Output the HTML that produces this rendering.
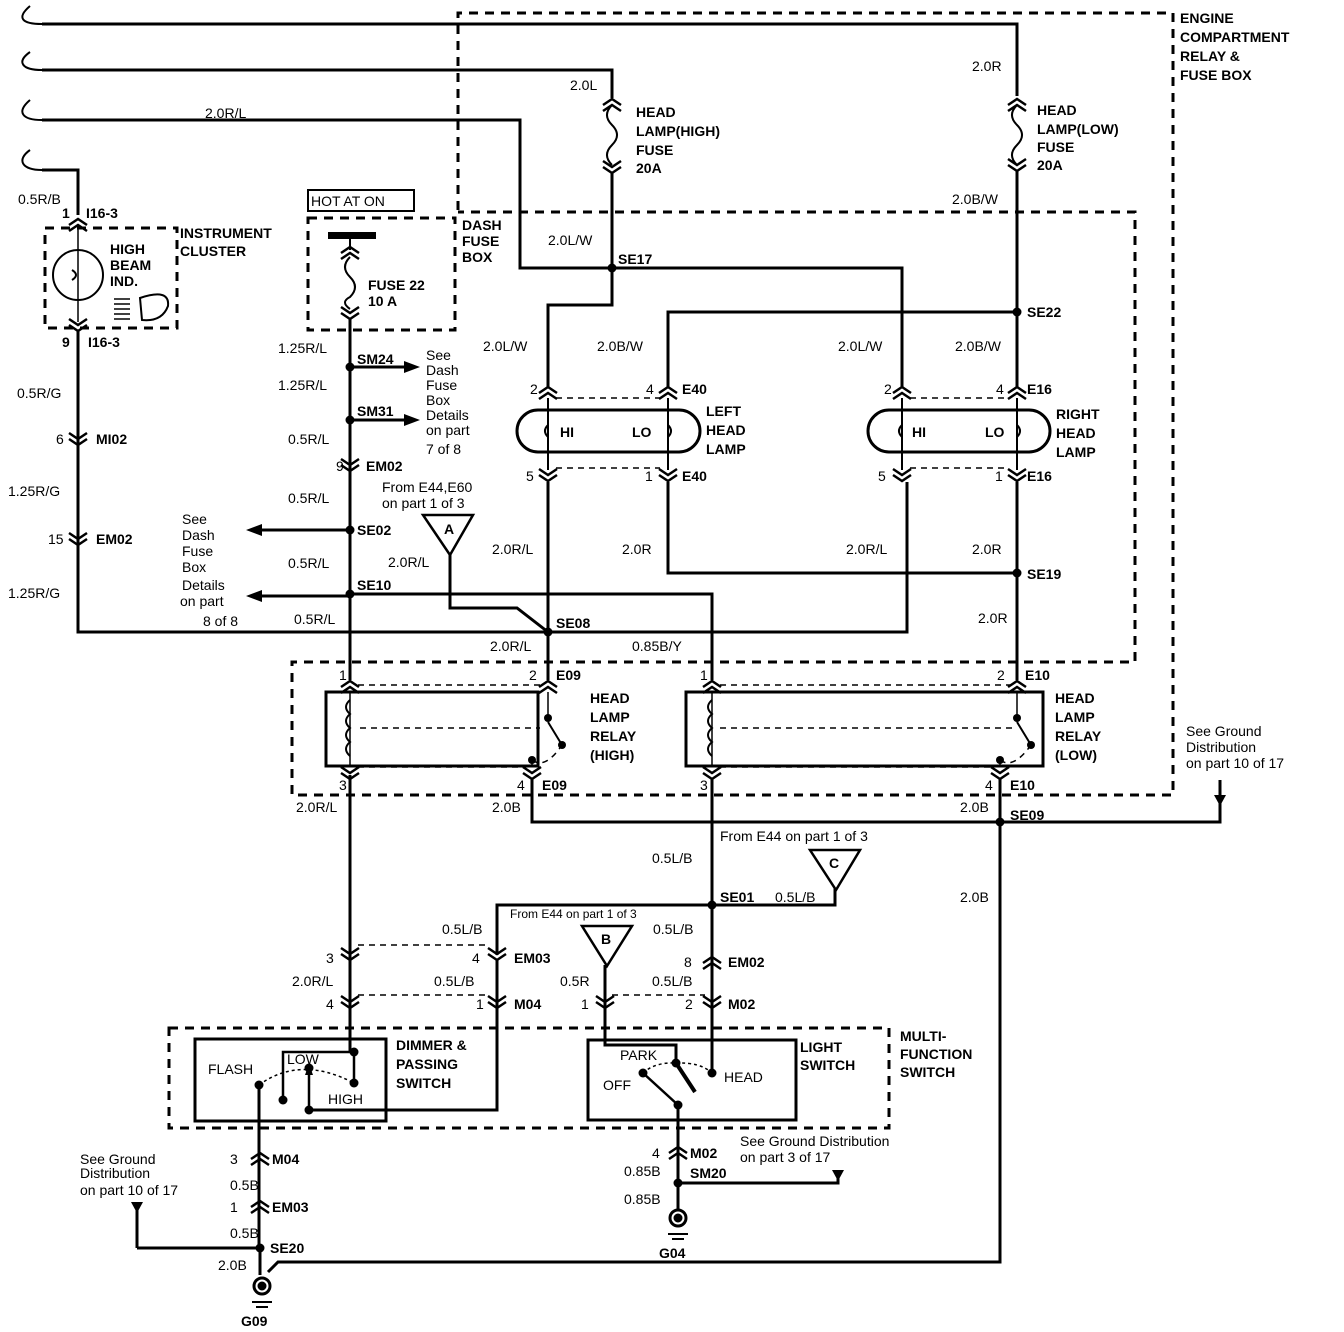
<!DOCTYPE html>
<html><head><meta charset="utf-8"><style>
html,body{margin:0;padding:0;background:#fff}
svg{display:block}
text{font-family:"Liberation Sans",Arial,sans-serif;font-size:14px;font-weight:bold;fill:#000}
.n{font-weight:normal}
</style></head><body>
<svg width="1344" height="1332" viewBox="0 0 1344 1332" xmlns="http://www.w3.org/2000/svg">
<defs>
<path id="dn" d="M-9,-7 L0,-1 L9,-7 M-9,-1 L0,5 L9,-1" fill="none" stroke="#000" stroke-width="2.5"/>
<path id="up" d="M-9,7 L0,1 L9,7 M-9,1 L0,-5 L9,1" fill="none" stroke="#000" stroke-width="2.5"/>
</defs>
<g fill="none" stroke="#000" stroke-width="3">
<!-- wire breaks -->
<path d="M42,24 C22,24 16,18 30,6" stroke-width="2"/>
<path d="M42,70 C22,70 16,62 30,52" stroke-width="2"/>
<path d="M42,120 C22,120 16,112 30,100" stroke-width="2"/>
<path d="M42,170 C22,170 16,160 30,150" stroke-width="2"/>
<!-- top wires -->
<path d="M42,24 H1017 V96"/>
<path d="M1017,170 V388"/>
<path d="M42,70 H612 V98"/>
<path d="M612,172 V305 H548 V388"/>
<path d="M42,120 H520 V268 H902 V388"/>
<path d="M42,170 H78 V215"/>
<path d="M78,224 V322" stroke-width="1.5"/>
<path d="M78,330 V632 H907 V482"/>
<path d="M668,388 V312 H1017"/>
<path d="M548,482 V680"/>
<path d="M668,482 V573 H1017"/>
<path d="M1017,482 V680"/>
<path d="M548,398 V470 M668,398 V470 M902,398 V470 M1017,398 V470" stroke-width="2"/>
<!-- fuse 22 column -->
<path d="M350,318 V680"/>
<path d="M350,775 V1052"/>
<path d="M350,594 H712 V680"/>
<path d="M350,530 H262"/>
<path d="M350,596 H262"/>
<path d="M350,367 H404"/>
<path d="M350,420 H404"/>
<path d="M450,553 V608 H517 L548,632"/>
<!-- relay bottoms -->
<path d="M532,778 V822 H1220 V795"/>
<path d="M1000,778 V1262 H278 L268,1272"/>
<path d="M712,778 V1073"/>
<path d="M497,955 V905 H835 V888"/>
<path d="M497,960 V1110 H309"/>
<path d="M605,965 V1045 H676 V1062"/>
<!-- dimmer internals -->
<path d="M350,1052 H283 V1100" stroke-width="2.5"/>
<path d="M354,1052 V1083" stroke-width="2.5"/>
<path d="M309,1110 V1072" stroke-width="2.5"/>
<path d="M259,1085 V1248 M137,1248 H260 M137,1248 V1202"/>
<path d="M260,1248 V1275"/>
<!-- light switch internals -->
<path d="M643,1073 L678,1105" stroke-width="2.5"/>
<path d="M676,1063 L695,1092" stroke-width="4"/>
<path d="M678,1105 V1210 M678,1183 H838 V1170"/>
<path d="M259,1085 Q300,1055 354,1083 M676,1063 Q700,1062 712,1073 M643,1073 Q655,1062 676,1063" stroke-width="1.5" stroke-dasharray="3,3"/>
<!-- wire in ground arrows -->
<path d="M1220,780 V800"/>
</g>
<!-- junction dots -->
<g fill="#000">
<circle cx="612" cy="268" r="4.5"/><circle cx="1017" cy="312" r="4.5"/>
<circle cx="350" cy="367" r="4.5"/><circle cx="350" cy="420" r="4.5"/>
<circle cx="350" cy="530" r="4.5"/><circle cx="350" cy="594" r="4.5"/>
<circle cx="548" cy="632" r="4.5"/><circle cx="1017" cy="573" r="4.5"/>
<circle cx="1000" cy="822" r="4.5"/><circle cx="712" cy="905" r="4.5"/>
<circle cx="260" cy="1248" r="4.5"/><circle cx="678" cy="1183" r="4.5"/>
<circle cx="354" cy="1052" r="4.5"/><circle cx="354" cy="1083" r="4.5"/>
<circle cx="283" cy="1100" r="4.5"/><circle cx="309" cy="1110" r="4.5"/>
<circle cx="309" cy="1068" r="4.5"/><circle cx="259" cy="1085" r="4.5"/>
<circle cx="676" cy="1063" r="4.5"/><circle cx="712" cy="1073" r="4.5"/>
<circle cx="643" cy="1073" r="4.5"/><circle cx="678" cy="1105" r="4.5"/>
<circle cx="548" cy="718" r="4"/><circle cx="532" cy="760" r="4"/><circle cx="562" cy="745" r="4"/>
<circle cx="1017" cy="718" r="4"/><circle cx="1000" cy="760" r="4"/><circle cx="1031" cy="745" r="4"/>
<!-- arrow heads -->
<polygon points="404,361 420,367 404,373"/><polygon points="404,414 420,420 404,426"/>
<polygon points="262,524 246,530 262,536"/><polygon points="262,590 246,596 262,602"/>
<polygon points="1214,795 1226,795 1220,806"/><polygon points="131,1202 143,1202 137,1213"/>
<polygon points="832,1170 844,1170 838,1181"/>
<polygon points="305,1075 313,1075 309,1064"/>
<rect x="328" y="232" width="48" height="7"/>
</g>
<!-- dashed boxes -->
<g fill="none" stroke="#000" stroke-width="3" stroke-dasharray="9,7">
<path d="M458,210 V13 H1173 V795 H292 V662 H1135 V212 H458"/>
<rect x="45" y="228" width="132" height="100"/>
<rect x="308" y="218" width="147" height="112"/>
<rect x="169" y="1028" width="720" height="100"/>
</g>
<g fill="none" stroke="#000" stroke-width="1.5" stroke-dasharray="6,5">
<path d="M556,398 H660 M556,468 H660 M910,398 H1009 M910,468 H1009"/>
<path d="M358,685 H540 M358,767 H525 M360,728 H540 M720,685 H1010 M720,767 H993 M720,728 H1015"/>
<path d="M358,945 H490 M358,995 H490 M612,995 H705"/>
<path d="M532,760 Q545,770 562,745 M1000,760 Q1013,770 1031,745"/>
</g>
<!-- solid boxes -->
<g fill="none" stroke="#000" stroke-width="3">
<rect x="308" y="190" width="106" height="21" stroke-width="2"/>
<rect x="517" y="410" width="183" height="42" rx="21"/>
<rect x="868" y="410" width="182" height="42" rx="21"/>
<rect x="326" y="692" width="212" height="74"/>
<rect x="686" y="692" width="357" height="74"/>
<rect x="195" y="1039" width="191" height="82"/>
<rect x="588" y="1040" width="208" height="80"/>
<circle cx="78" cy="275" r="25" stroke-width="2"/>
<path d="M140,298 Q170,288 168,306 Q162,322 142,320 Z" stroke-width="2"/>
<path d="M114,299 H130 M114,304 H130 M114,309 H130 M114,314 H130 M114,319 H130" stroke-width="1.5"/>
<path d="M548,722 L562,745 M1017,722 L1031,745" stroke-width="2"/>
<path d="M548,692 V718 M532,760 V766 M1017,692 V718 M1000,760 V766 M350,692 V766 M712,692 V766" stroke-width="1.5"/>
<path d="M350,700 q-8,7 0,14 q-8,7 0,14 q-8,7 0,14 q-8,7 0,14" stroke-width="2"/>
<path d="M712,700 q-8,7 0,14 q-8,7 0,14 q-8,7 0,14 q-8,7 0,14" stroke-width="2"/>
<!-- fuses -->
<path d="M612,105 q-10,10 0,20 q10,10 0,20 q-10,10 0,20" stroke-width="2"/>
<path d="M1017,105 q-10,10 0,20 q10,10 0,20 q-10,10 0,20" stroke-width="2"/>
<path d="M350,257 q-10,10 0,20 q10,10 0,20 q-10,5 0,12" stroke-width="2"/>
<path d="M350,239 V250" stroke-width="2"/>
<!-- lamp filaments -->
<path d="M548,425 q-6,6 0,12 M668,425 q6,6 0,12 M902,425 q-6,6 0,12 M1017,425 q6,6 0,12" stroke-width="2"/>
<path d="M72,270 q8,5 0,10" stroke-width="2"/>
<!-- grounds -->
<circle cx="262" cy="1286" r="8"/><circle cx="262" cy="1286" r="3" fill="#000"/>
<path d="M252,1302 H272 M256,1307 H268" stroke-width="2"/>
<circle cx="678" cy="1218" r="8"/><circle cx="678" cy="1218" r="3" fill="#000"/>
<path d="M668,1234 H688 M672,1239 H684" stroke-width="2"/>
<!-- triangles -->
<polygon points="423,515 473,515 450,555" stroke-width="2.5"/>
<polygon points="810,850 860,850 836,890" stroke-width="2.5"/>
<polygon points="582,926 632,926 607,966" stroke-width="2.5"/>
</g>
<!-- connectors -->
<use href="#up" x="612" y="104"/><use href="#dn" x="612" y="168"/>
<use href="#up" x="1017" y="104"/><use href="#dn" x="1017" y="166"/>
<use href="#up" x="350" y="252"/><use href="#dn" x="350" y="314"/>
<use href="#up" x="78" y="224"/><use href="#dn" x="78" y="326"/>
<use href="#dn" x="78" y="440"/><use href="#dn" x="78" y="540"/>
<use href="#dn" x="350" y="466"/>
<use href="#up" x="548" y="392"/><use href="#up" x="668" y="392"/>
<use href="#up" x="902" y="392"/><use href="#up" x="1017" y="392"/>
<use href="#dn" x="548" y="476"/><use href="#dn" x="668" y="476"/>
<use href="#dn" x="902" y="476"/><use href="#dn" x="1017" y="476"/>
<use href="#up" x="350" y="686"/><use href="#up" x="548" y="686"/>
<use href="#up" x="712" y="686"/><use href="#up" x="1017" y="686"/>
<use href="#dn" x="350" y="774"/><use href="#dn" x="532" y="774"/>
<use href="#dn" x="712" y="774"/><use href="#dn" x="1000" y="774"/>
<use href="#dn" x="350" y="955"/><use href="#dn" x="497" y="955"/>
<use href="#up" x="712" y="962"/>
<use href="#dn" x="350" y="1003"/><use href="#dn" x="497" y="1003"/>
<use href="#dn" x="605" y="1003"/><use href="#dn" x="712" y="1003"/>
<use href="#up" x="260" y="1158"/><use href="#up" x="260" y="1206"/>
<use href="#up" x="678" y="1152"/>
<!-- texts -->
<text x="1180" y="23">ENGINE</text>
<text x="1180" y="42">COMPARTMENT</text>
<text x="1180" y="61">RELAY &amp;</text>
<text x="1180" y="80">FUSE BOX</text>
<text x="570" y="90" class="n">2.0L</text>
<text x="636" y="117">HEAD</text><text x="636" y="136">LAMP(HIGH)</text><text x="636" y="155">FUSE</text><text x="636" y="173">20A</text>
<text x="972" y="71" class="n">2.0R</text>
<text x="1037" y="115">HEAD</text><text x="1037" y="134">LAMP(LOW)</text><text x="1037" y="152">FUSE</text><text x="1037" y="170">20A</text>
<text x="952" y="204" class="n">2.0B/W</text>
<text x="205" y="118" class="n">2.0R/L</text>
<text x="18" y="204" class="n">0.5R/B</text>
<text x="62" y="218">1</text><text x="86" y="218">I16-3</text>
<text x="110" y="254">HIGH</text><text x="110" y="270">BEAM</text><text x="110" y="286">IND.</text>
<text x="180" y="238">INSTRUMENT</text><text x="180" y="256">CLUSTER</text>
<text x="311" y="206" class="n">HOT AT ON</text>
<text x="462" y="230">DASH</text><text x="462" y="246">FUSE</text><text x="462" y="262">BOX</text>
<text x="368" y="290">FUSE 22</text><text x="368" y="306">10 A</text>
<text x="62" y="347">9</text><text x="88" y="347">I16-3</text>
<text x="17" y="398" class="n">0.5R/G</text>
<text x="56" y="444" class="n">6</text><text x="96" y="444">MI02</text>
<text x="8" y="496" class="n">1.25R/G</text>
<text x="48" y="544" class="n">15</text><text x="96" y="544">EM02</text>
<text x="8" y="598" class="n">1.25R/G</text>
<text x="203" y="626" class="n">8 of 8</text>
<text x="278" y="353" class="n">1.25R/L</text>
<text x="278" y="390" class="n">1.25R/L</text>
<text x="288" y="444" class="n">0.5R/L</text>
<text x="288" y="503" class="n">0.5R/L</text>
<text x="288" y="568" class="n">0.5R/L</text>
<text x="294" y="624" class="n">0.5R/L</text>
<text x="357" y="364">SM24</text><text x="357" y="416">SM31</text>
<text x="357" y="535">SE02</text><text x="357" y="590">SE10</text>
<text x="336" y="471" class="n">9</text><text x="366" y="471">EM02</text>
<text x="426" y="360" class="n">See</text><text x="426" y="375" class="n">Dash</text><text x="426" y="390" class="n">Fuse</text><text x="426" y="405" class="n">Box</text><text x="426" y="420" class="n">Details</text><text x="426" y="435" class="n">on part</text><text x="426" y="454" class="n">7 of 8</text>
<text x="182" y="524" class="n">See</text><text x="182" y="540" class="n">Dash</text><text x="182" y="556" class="n">Fuse</text><text x="182" y="572" class="n">Box</text><text x="182" y="590" class="n">Details</text><text x="180" y="606" class="n">on part</text>
<text x="382" y="492" class="n">From E44,E60</text><text x="382" y="508" class="n">on part 1 of 3</text>
<text x="444" y="534">A</text><text x="829" y="868">C</text><text x="601" y="944">B</text>
<text x="388" y="567" class="n">2.0R/L</text>
<text x="548" y="245" class="n">2.0L/W</text>
<text x="618" y="264">SE17</text>
<text x="483" y="351" class="n">2.0L/W</text>
<text x="597" y="351" class="n">2.0B/W</text>
<text x="838" y="351" class="n">2.0L/W</text>
<text x="955" y="351" class="n">2.0B/W</text>
<text x="1027" y="317">SE22</text>
<text x="530" y="394" class="n">2</text><text x="646" y="394" class="n">4</text><text x="682" y="394">E40</text>
<text x="884" y="394" class="n">2</text><text x="996" y="394" class="n">4</text><text x="1027" y="394">E16</text>
<text x="560" y="437">HI</text><text x="632" y="437">LO</text>
<text x="912" y="437">HI</text><text x="985" y="437">LO</text>
<text x="706" y="416">LEFT</text><text x="706" y="435">HEAD</text><text x="706" y="454">LAMP</text>
<text x="1056" y="419">RIGHT</text><text x="1056" y="438">HEAD</text><text x="1056" y="457">LAMP</text>
<text x="526" y="481" class="n">5</text><text x="645" y="481" class="n">1</text><text x="682" y="481">E40</text>
<text x="878" y="481" class="n">5</text><text x="995" y="481" class="n">1</text><text x="1027" y="481">E16</text>
<text x="492" y="554" class="n">2.0R/L</text>
<text x="622" y="554" class="n">2.0R</text>
<text x="846" y="554" class="n">2.0R/L</text>
<text x="972" y="554" class="n">2.0R</text>
<text x="1027" y="579">SE19</text>
<text x="978" y="623" class="n">2.0R</text>
<text x="556" y="628">SE08</text>
<text x="490" y="651" class="n">2.0R/L</text>
<text x="632" y="651" class="n">0.85B/Y</text>
<text x="339" y="680" class="n">1</text><text x="529" y="680" class="n">2</text><text x="556" y="680">E09</text>
<text x="700" y="680" class="n">1</text><text x="997" y="680" class="n">2</text><text x="1025" y="680">E10</text>
<text x="590" y="703">HEAD</text><text x="590" y="722">LAMP</text><text x="590" y="741">RELAY</text><text x="590" y="760">(HIGH)</text>
<text x="1055" y="703">HEAD</text><text x="1055" y="722">LAMP</text><text x="1055" y="741">RELAY</text><text x="1055" y="760">(LOW)</text>
<text x="339" y="790" class="n">3</text><text x="517" y="790" class="n">4</text><text x="542" y="790">E09</text>
<text x="700" y="790" class="n">3</text><text x="985" y="790" class="n">4</text><text x="1010" y="790">E10</text>
<text x="1186" y="736" class="n">See Ground</text><text x="1186" y="752" class="n">Distribution</text><text x="1186" y="768" class="n">on part 10 of 17</text>
<text x="296" y="812" class="n">2.0R/L</text>
<text x="492" y="812" class="n">2.0B</text>
<text x="960" y="812" class="n">2.0B</text>
<text x="1010" y="820">SE09</text>
<text x="720" y="841" class="n">From E44 on part 1 of 3</text>
<text x="652" y="863" class="n">0.5L/B</text>
<text x="720" y="902">SE01</text><text x="775" y="902" class="n">0.5L/B</text>
<text x="960" y="902" class="n">2.0B</text>
<text x="442" y="934" class="n">0.5L/B</text>
<text x="510" y="918" class="n" style="font-size:12px">From E44 on part 1 of 3</text>
<text x="653" y="934" class="n">0.5L/B</text>
<text x="326" y="963" class="n">3</text><text x="472" y="963" class="n">4</text><text x="514" y="963">EM03</text>
<text x="684" y="967" class="n">8</text><text x="728" y="967">EM02</text>
<text x="292" y="986" class="n">2.0R/L</text><text x="434" y="986" class="n">0.5L/B</text>
<text x="560" y="986" class="n">0.5R</text><text x="652" y="986" class="n">0.5L/B</text>
<text x="326" y="1009" class="n">4</text><text x="476" y="1009" class="n">1</text><text x="514" y="1009">M04</text>
<text x="581" y="1009" class="n">1</text><text x="685" y="1009" class="n">2</text><text x="728" y="1009">M02</text>
<text x="900" y="1041">MULTI-</text><text x="900" y="1059">FUNCTION</text><text x="900" y="1077">SWITCH</text>
<text x="396" y="1050">DIMMER &amp;</text><text x="396" y="1069">PASSING</text><text x="396" y="1088">SWITCH</text>
<text x="800" y="1052">LIGHT</text><text x="800" y="1070">SWITCH</text>
<text x="208" y="1074" class="n">FLASH</text><text x="287" y="1064" class="n">LOW</text><text x="328" y="1104" class="n">HIGH</text>
<text x="620" y="1060" class="n">PARK</text><text x="724" y="1082" class="n">HEAD</text><text x="603" y="1090" class="n">OFF</text>
<text x="230" y="1164" class="n">3</text><text x="272" y="1164">M04</text>
<text x="230" y="1190" class="n">0.5B</text>
<text x="230" y="1212" class="n">1</text><text x="272" y="1212">EM03</text>
<text x="230" y="1238" class="n">0.5B</text>
<text x="270" y="1253">SE20</text>
<text x="218" y="1270" class="n">2.0B</text>
<text x="241" y="1326">G09</text>
<text x="80" y="1164" class="n">See Ground</text><text x="80" y="1178" class="n">Distribution</text><text x="80" y="1195" class="n">on part 10 of 17</text>
<text x="652" y="1158" class="n">4</text><text x="690" y="1158">M02</text>
<text x="624" y="1176" class="n">0.85B</text><text x="690" y="1178">SM20</text>
<text x="624" y="1204" class="n">0.85B</text>
<text x="659" y="1258">G04</text>
<text x="740" y="1146" class="n">See Ground Distribution</text><text x="740" y="1162" class="n">on part 3 of 17</text>
</svg>
</body></html>
